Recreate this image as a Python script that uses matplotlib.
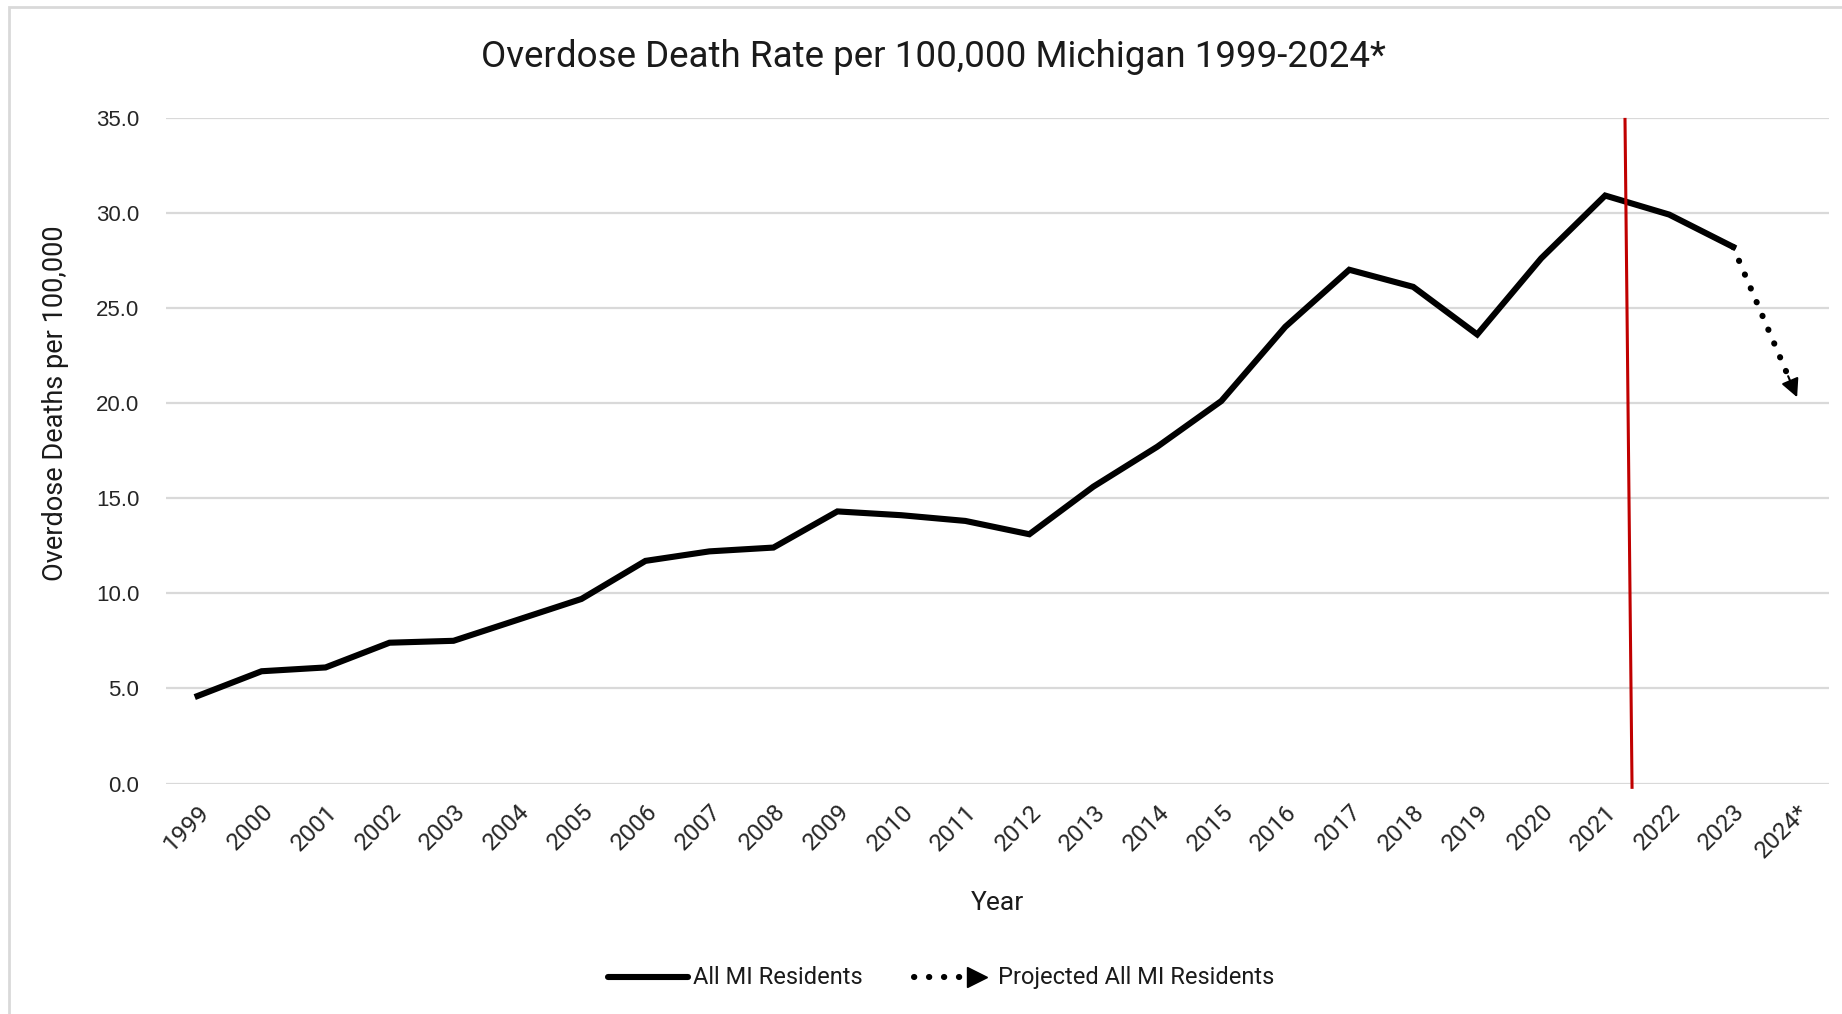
import matplotlib
matplotlib.use("Agg")
import matplotlib.pyplot as plt
from matplotlib.patches import Rectangle
from matplotlib.lines import Line2D

# data
years = ['1999', '2000', '2001', '2002', '2003', '2004', '2005', '2006', '2007',
         '2008', '2009', '2010', '2011', '2012', '2013', '2014', '2015', '2016',
         '2017', '2018', '2019', '2020', '2021', '2022', '2023', '2024*']
rates = [4.6, 5.9, 6.1, 7.4, 7.5, 8.6, 9.7, 11.7, 12.2, 12.4, 14.3, 14.1, 13.8,
         13.1, 15.6, 17.7, 20.1, 24.0, 27.0, 26.1, 23.6, 27.6, 30.9, 29.9, 28.2]
proj_years = ['2023', '2024*']
proj_rates = [28.2, 20.3]
# red marker line (slightly slanted in the original), in category units
marker_x = [22.31, 22.42]
marker_y = [34.9, -0.2]

narrow = ['Roboto', 'DejaVu Sans']

fig = plt.figure(figsize=(18.42, 10.14), dpi=100)
ax = fig.add_axes([0.0899, 0.2273, 0.9031, 0.6568])

x = list(range(len(rates)))
ax.plot(x, rates, color='black', lw=4.4, solid_joinstyle='miter', zorder=3)

px = [years.index(y) for y in proj_years]
# dotted shaft stops a little short, then an arrow head to the projected point
fx = px[0] + 0.86 * (px[1] - px[0])
fy = proj_rates[0] + 0.86 * (proj_rates[1] - proj_rates[0])
ax.plot([px[0], fx], [proj_rates[0], fy], color='black', lw=4.4,
        linestyle=(0, (0.05, 2.4)), dash_capstyle='round', zorder=3)
ax.annotate('', xy=(px[1], proj_rates[1]), xytext=(fx, fy),
            arrowprops=dict(arrowstyle='-|>,head_length=1.1,head_width=0.55',
                            color='black', lw=1.5, shrinkA=0, shrinkB=0),
            zorder=3)

ax.plot(marker_x, marker_y, color='#C00000', lw=2.2, zorder=4, clip_on=False)

ax.set_xlim(-0.5, len(years) - 0.5)
ax.set_ylim(0, 35)
ax.set_xticks(range(len(years)))
ax.set_xticklabels(years, rotation=45, ha='right', rotation_mode='anchor',
                   family=narrow, fontsize=17.5, color='#262626')
ax.set_yticks([0, 5, 10, 15, 20, 25, 30, 35])
ax.set_yticklabels(['%.1f' % v for v in ax.get_yticks()],
                   family='Liberation Sans', fontsize=16, color='#262626')
ax.tick_params(axis='both', length=0)
ax.tick_params(axis='y', pad=19)
ax.tick_params(axis='x', pad=12)
ax.grid(axis='y', color='#D9D9D9', lw=1.6)
ax.set_axisbelow(True)
for s in ax.spines.values():
    s.set_visible(False)

ax.set_ylabel('Overdose Deaths per 100,000', family=narrow, fontsize=19.5,
              color='#1a1a1a')
ax.yaxis.set_label_coords(-0.058, 0.571)
ax.set_xlabel('Year', family=narrow, fontsize=19, color='#1a1a1a')
ax.xaxis.set_label_coords(0.5, -0.161)

fig.text(0.507, 0.944, 'Overdose Death Rate per 100,000 Michigan 1999-2024*',
         ha='center', va='center', family=narrow, fontsize=26.5, color='#1a1a1a')

# legend drawn at the bottom of the figure
ly = 0.036
fig.add_artist(Line2D([608 / 1842, 688 / 1842], [ly, ly], color='black', lw=4.4,
                      solid_capstyle='round'))
fig.text(693 / 1842, ly, 'All MI Residents', ha='left', va='center',
         family=narrow, fontsize=17, color='#1a1a1a')
fig.add_artist(Line2D([914 / 1842, 962 / 1842], [ly, ly], color='black', lw=4.4,
                      linestyle=(0, (0.05, 2.4)), dash_capstyle='round'))
fig.add_artist(Line2D([977 / 1842], [ly], color='black', marker='>',
                      markersize=15, lw=0))
fig.text(998 / 1842, ly, 'Projected All MI Residents', ha='left', va='center',
         family=narrow, fontsize=17, color='#1a1a1a')

# chart area border
fig.add_artist(Rectangle((0.005, -0.02), 1.0, 1.013, transform=fig.transFigure,
                         fill=False, edgecolor='#D9D9D9', lw=2))

fig.savefig('out.png', dpi=100)
